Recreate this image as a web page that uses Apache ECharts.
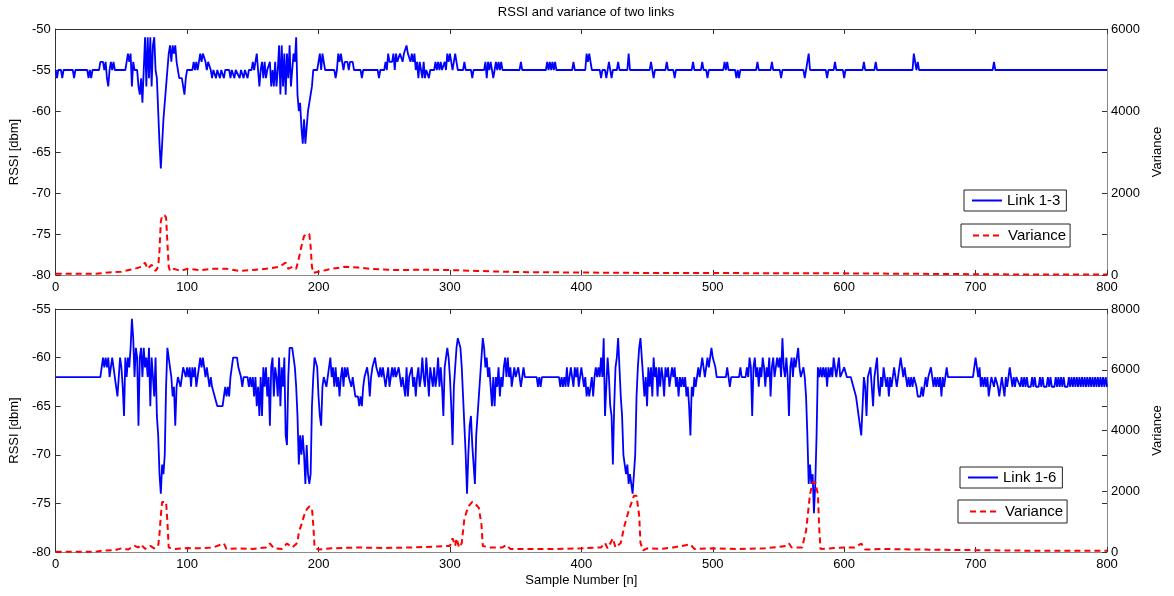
<!DOCTYPE html>
<html lang="en">
<head>
    <meta charset="UTF-8">
    <title>RSSI and variance of two links</title>
    <script src="https://cdn.jsdelivr.net/npm/echarts@6/dist/echarts.min.js"></script>
    <style>
        html, body { margin: 0; padding: 0; background: #fff; }
        #main { width: 1174px; height: 596px; }
    </style>
</head>
<body>
<div id="main"></div>

<script type="text/javascript">
    // [sample, rssi dBm]
    var link13 = [[0,-55],[1,-56],[2,-55],[4,-55],[5,-56],[6,-55],[13,-55],[14,-56],[15,-55],[24,-55],[25,-56],[26,-55],[27,-56],[28,-55],[33,-55],[34,-54],[36,-54],[37,-55],[38,-54],[39,-56],[40,-57],[41,-55],[42,-54],[43,-55],[44,-54],[45,-55],[53,-55],[54,-54],[55,-53],[56,-54],[57,-53],[58,-57],[59,-54],[60,-55],[62,-55],[63,-57],[64,-58],[65,-56],[66,-59],[67,-55],[68,-51],[69,-57],[70,-51],[71,-56],[72,-51],[73,-57],[74,-52],[75,-51],[76,-55],[77,-56],[78,-60],[79,-64],[80,-67],[81,-64],[82,-61],[83,-59],[84,-57],[85,-55],[86,-53],[87,-52],[88,-54],[89,-52],[90,-53],[91,-52],[92,-54],[93,-55],[94,-56],[96,-56],[97,-57],[98,-58],[99,-56],[100,-55],[104,-55],[105,-54],[106,-55],[107,-54],[108,-55],[110,-53],[111,-54],[112,-53],[114,-54],[115,-55],[116,-54],[118,-55],[119,-56],[120,-55],[122,-56],[123,-55],[125,-56],[126,-55],[128,-56],[129,-55],[132,-55],[133,-56],[134,-55],[136,-56],[137,-55],[140,-56],[141,-55],[143,-56],[144,-55],[146,-56],[147,-55],[149,-55],[150,-54],[151,-55],[152,-54],[153,-53],[154,-55],[155,-57],[156,-55],[157,-54],[158,-56],[159,-54],[160,-56],[161,-55],[163,-54],[164,-57],[165,-55],[166,-57],[167,-54],[168,-57],[169,-55],[170,-52],[171,-58],[172,-52],[173,-57],[174,-53],[175,-58],[176,-53],[177,-56],[178,-52],[179,-57],[180,-55],[181,-53],[182,-54],[183,-51],[184,-58],[185,-60],[186,-59],[187,-62],[188,-64],[189,-61],[190,-64],[191,-62],[192,-60],[193,-59],[194,-59],[195,-57],[196,-55],[199,-55],[200,-54],[201,-53],[202,-55],[203,-53],[204,-54],[205,-55],[212,-55],[213,-56],[214,-55],[215,-53],[216,-54],[217,-53],[218,-54],[219,-55],[220,-54],[222,-54],[223,-55],[224,-54],[226,-54],[227,-55],[232,-55],[233,-56],[234,-55],[245,-55],[246,-56],[247,-55],[250,-55],[251,-54],[252,-55],[253,-53],[254,-54],[256,-54],[257,-53],[258,-55],[259,-53],[260,-54],[262,-53],[264,-54],[265,-53],[267,-52],[268,-53],[270,-54],[271,-53],[272,-54],[273,-53],[274,-55],[275,-54],[276,-56],[277,-54],[278,-55],[279,-56],[280,-54],[281,-56],[282,-55],[284,-56],[285,-55],[288,-55],[289,-54],[290,-55],[291,-54],[292,-55],[293,-54],[294,-55],[296,-54],[297,-55],[298,-53],[299,-54],[300,-53],[301,-54],[302,-55],[303,-54],[304,-53],[305,-54],[306,-55],[310,-55],[311,-54],[312,-55],[316,-55],[317,-56],[318,-55],[326,-55],[327,-54],[328,-56],[329,-54],[330,-55],[331,-54],[332,-55],[333,-56],[334,-55],[335,-54],[336,-55],[337,-54],[338,-55],[339,-54],[340,-55],[353,-55],[354,-54],[355,-55],[373,-55],[374,-54],[375,-55],[376,-54],[377,-55],[378,-54],[379,-55],[380,-54],[381,-55],[393,-55],[394,-54],[395,-55],[403,-55],[404,-53],[405,-54],[406,-53],[407,-54],[408,-55],[414,-55],[415,-56],[416,-55],[418,-55],[419,-56],[420,-55],[421,-54],[422,-55],[423,-56],[424,-55],[427,-55],[428,-54],[429,-55],[435,-55],[436,-53],[437,-55],[452,-55],[453,-54],[454,-55],[455,-56],[456,-55],[464,-55],[465,-54],[466,-55],[470,-55],[471,-56],[472,-55],[484,-55],[485,-54],[486,-55],[491,-55],[492,-54],[493,-55],[495,-55],[496,-56],[497,-55],[508,-55],[509,-54],[510,-55],[511,-54],[512,-55],[517,-55],[518,-56],[519,-55],[520,-56],[521,-55],[533,-55],[534,-54],[535,-55],[544,-55],[545,-54],[546,-55],[551,-55],[552,-56],[553,-55],[569,-55],[570,-56],[571,-55],[572,-54],[573,-53],[574,-55],[586,-55],[587,-56],[588,-55],[592,-55],[593,-54],[594,-55],[599,-55],[600,-56],[601,-55],[614,-55],[615,-54],[616,-55],[623,-55],[624,-54],[625,-55],[652,-55],[653,-53],[654,-54],[655,-55],[656,-54],[657,-55],[713,-55],[714,-54],[715,-55],[800,-55]];

    // [sample, variance]
    var var13 = [[0,30],[30,30],[40,60],[50,80],[60,150],[65,200],[68,300],[70,150],[73,250],[76,100],[78,200],[79,600],[80,1300],[81,1450],[83,1450],[84,1400],[85,800],[86,200],[87,100],[90,150],[95,100],[100,150],[110,120],[120,150],[130,150],[140,100],[150,120],[160,150],[170,200],[175,300],[177,150],[180,200],[183,150],[185,400],[187,700],[189,950],[191,1000],[193,1000],[194,700],[195,200],[196,50],[200,80],[210,150],[220,200],[230,180],[240,150],[260,120],[280,130],[300,120],[320,100],[340,80],[360,70],[400,60],[450,50],[500,50],[550,40],[600,40],[650,30],[700,20],[750,10],[800,10]];

    var link16 = [[0,-62],[34,-62],[35,-61],[36,-60],[37,-61],[38,-60],[39,-61],[40,-60],[41,-62],[42,-61],[43,-60],[44,-61],[45,-62],[46,-63],[47,-64],[48,-62],[49,-60],[50,-61],[51,-63],[52,-66],[53,-60],[54,-62],[55,-60],[56,-61],[57,-59],[58,-56],[59,-58],[60,-62],[61,-59],[62,-60],[63,-67],[64,-60],[65,-59],[66,-62],[67,-59],[68,-61],[69,-60],[70,-62],[71,-59],[72,-65],[73,-60],[74,-62],[75,-64],[76,-60],[77,-66],[78,-68],[79,-72],[80,-74],[81,-71],[82,-72],[83,-70],[84,-63],[85,-59],[86,-60],[87,-61],[88,-62],[89,-64],[90,-63],[91,-67],[92,-63],[93,-62],[95,-63],[96,-62],[97,-61],[98,-61],[99,-62],[100,-61],[101,-62],[102,-61],[103,-63],[104,-61],[105,-62],[106,-61],[107,-63],[108,-62],[109,-61],[110,-60],[111,-61],[112,-60],[113,-61],[114,-62],[115,-61],[116,-62],[117,-63],[118,-62],[119,-63],[121,-64],[122,-64],[123,-65],[127,-65],[128,-64],[129,-63],[130,-64],[131,-63],[132,-64],[133,-62],[134,-61],[135,-60],[136,-60],[138,-60],[139,-61],[140,-61],[141,-62],[142,-63],[143,-62],[144,-62],[146,-62],[147,-63],[148,-62],[149,-63],[150,-62],[151,-64],[152,-62],[153,-65],[154,-63],[155,-66],[156,-62],[157,-66],[158,-61],[159,-63],[160,-61],[161,-64],[162,-62],[163,-67],[164,-61],[165,-60],[166,-64],[167,-61],[168,-62],[169,-64],[170,-60],[171,-65],[172,-61],[173,-63],[174,-60],[175,-68],[176,-69],[177,-62],[178,-59],[179,-59],[180,-59],[181,-60],[182,-61],[183,-63],[184,-66],[185,-71],[186,-68],[187,-70],[188,-68],[189,-70],[190,-73],[191,-69],[192,-72],[193,-73],[194,-72],[195,-65],[196,-62],[197,-60],[198,-60],[199,-61],[200,-64],[201,-66],[202,-67],[203,-63],[204,-62],[205,-62],[206,-63],[207,-62],[208,-61],[209,-60],[210,-62],[211,-61],[212,-63],[213,-61],[214,-63],[215,-62],[216,-64],[217,-62],[218,-61],[219,-63],[220,-61],[221,-62],[222,-61],[223,-62],[224,-62],[225,-63],[226,-62],[227,-63],[228,-64],[230,-64],[231,-65],[232,-64],[233,-65],[234,-63],[235,-62],[236,-62],[237,-61],[238,-62],[239,-64],[240,-62],[241,-61],[242,-61],[243,-60],[244,-61],[245,-61],[246,-62],[247,-61],[248,-62],[249,-61],[250,-62],[251,-63],[252,-62],[253,-61],[254,-63],[255,-62],[256,-61],[257,-62],[258,-61],[259,-62],[260,-62],[261,-61],[262,-62],[263,-63],[264,-62],[265,-62],[266,-64],[267,-61],[268,-64],[269,-62],[270,-62],[271,-61],[272,-63],[273,-62],[274,-64],[275,-62],[276,-61],[277,-63],[278,-62],[279,-60],[280,-62],[281,-63],[282,-60],[283,-62],[284,-64],[285,-61],[286,-62],[287,-63],[288,-61],[289,-63],[290,-62],[291,-60],[292,-63],[293,-61],[294,-63],[295,-66],[296,-61],[297,-60],[298,-59],[299,-60],[300,-62],[301,-65],[302,-69],[303,-63],[304,-61],[305,-59],[306,-58],[307,-58],[308,-59],[309,-61],[310,-64],[311,-67],[312,-70],[313,-74],[314,-70],[315,-67],[316,-66],[317,-69],[318,-71],[319,-73],[320,-68],[321,-66],[322,-64],[323,-62],[324,-60],[325,-58],[326,-59],[327,-61],[328,-60],[329,-62],[330,-61],[331,-63],[332,-65],[333,-62],[334,-65],[335,-62],[336,-63],[337,-61],[338,-64],[339,-62],[340,-63],[341,-61],[342,-60],[343,-62],[344,-60],[345,-62],[346,-61],[347,-63],[348,-62],[349,-61],[350,-62],[352,-61],[353,-62],[354,-63],[355,-62],[356,-61],[357,-62],[366,-62],[367,-63],[368,-62],[369,-63],[370,-62],[383,-62],[384,-63],[385,-62],[386,-63],[387,-62],[388,-63],[389,-61],[390,-63],[391,-62],[392,-61],[393,-62],[394,-63],[395,-61],[396,-62],[397,-61],[398,-63],[399,-62],[400,-61],[401,-62],[402,-63],[403,-62],[404,-64],[405,-63],[406,-64],[407,-63],[408,-62],[409,-64],[410,-62],[411,-61],[412,-62],[413,-61],[414,-62],[415,-60],[416,-62],[417,-58],[418,-66],[419,-63],[420,-60],[421,-62],[422,-65],[423,-66],[424,-71],[425,-65],[426,-61],[427,-60],[428,-58],[429,-61],[430,-64],[431,-66],[432,-70],[433,-71],[434,-72],[435,-71],[436,-73],[437,-72],[438,-73],[439,-74],[440,-74],[441,-70],[442,-64],[443,-61],[444,-59],[445,-58],[446,-60],[447,-62],[448,-64],[449,-62],[450,-65],[451,-61],[452,-63],[453,-61],[454,-64],[455,-60],[456,-62],[457,-61],[458,-64],[459,-61],[460,-63],[461,-61],[462,-62],[463,-64],[464,-61],[465,-62],[466,-61],[467,-63],[468,-62],[469,-61],[470,-62],[471,-61],[472,-63],[473,-62],[474,-64],[475,-62],[476,-63],[477,-62],[478,-63],[479,-62],[480,-64],[481,-63],[482,-65],[483,-68],[484,-63],[485,-64],[486,-62],[487,-63],[488,-62],[489,-61],[490,-62],[491,-61],[492,-60],[493,-61],[494,-62],[495,-61],[496,-60],[497,-61],[498,-60],[499,-59],[500,-60],[501,-60],[502,-61],[503,-62],[510,-62],[511,-61],[512,-62],[513,-63],[514,-62],[520,-62],[521,-61],[522,-62],[525,-62],[526,-61],[527,-62],[528,-60],[529,-61],[530,-66],[531,-61],[532,-60],[533,-62],[534,-61],[535,-63],[536,-61],[537,-62],[538,-60],[539,-61],[540,-63],[541,-61],[542,-62],[543,-60],[544,-64],[545,-61],[546,-60],[547,-62],[548,-61],[549,-60],[550,-61],[551,-60],[552,-62],[553,-58],[554,-61],[555,-62],[556,-60],[557,-62],[558,-66],[559,-61],[560,-60],[561,-62],[562,-60],[563,-61],[564,-60],[565,-59],[566,-61],[567,-62],[568,-62],[569,-61],[570,-62],[571,-64],[572,-68],[573,-73],[574,-71],[575,-73],[576,-72],[577,-76],[578,-73],[579,-68],[580,-61],[581,-62],[582,-61],[583,-62],[584,-61],[585,-62],[586,-61],[587,-63],[588,-61],[589,-62],[590,-61],[591,-62],[592,-60],[593,-61],[594,-62],[595,-61],[596,-60],[597,-62],[598,-62],[600,-61],[602,-62],[605,-62],[607,-63],[609,-64],[611,-66],[612,-67],[613,-68],[614,-65],[615,-62],[616,-63],[617,-66],[618,-62],[620,-61],[621,-63],[622,-65],[623,-62],[624,-61],[625,-60],[626,-63],[627,-64],[628,-62],[629,-63],[630,-61],[631,-62],[632,-63],[633,-62],[634,-64],[635,-62],[636,-63],[637,-62],[638,-61],[639,-62],[640,-63],[641,-62],[642,-61],[643,-60],[644,-61],[645,-62],[646,-61],[647,-62],[648,-63],[649,-62],[650,-63],[651,-62],[652,-63],[653,-62],[655,-63],[656,-64],[658,-64],[659,-63],[660,-64],[661,-63],[662,-62],[663,-63],[664,-62],[666,-61],[667,-62],[668,-63],[669,-62],[670,-63],[671,-62],[672,-63],[673,-62],[674,-64],[675,-62],[676,-63],[677,-62],[678,-61],[679,-62],[698,-62],[699,-61],[700,-60],[701,-61],[702,-62],[703,-61],[704,-63],[705,-62],[706,-63],[707,-62],[708,-63],[709,-62],[710,-64],[711,-63],[712,-62],[714,-63],[715,-62],[717,-63],[718,-64],[719,-63],[720,-62],[721,-63],[722,-64],[723,-62],[724,-63],[725,-62],[726,-61],[727,-62],[728,-63],[729,-62],[730,-63],[731,-62],[734,-63],[735,-62],[736,-63],[737,-62],[738,-63],[739,-62],[740,-63],[742,-63],[743,-62],[744,-63],[745,-62],[746,-63],[748,-63],[749,-62],[750,-63],[751,-62],[752,-63],[754,-63],[755,-62],[756,-63],[757,-62],[758,-63],[760,-63],[761,-62],[762,-63],[763,-62],[764,-63],[765,-62],[766,-63],[767,-62],[768,-63],[770,-63],[771,-62],[772,-63],[773,-62],[774,-63],[775,-62],[776,-63],[777,-62],[778,-63],[779,-62],[780,-63],[781,-62],[782,-63],[783,-62],[784,-63],[785,-62],[786,-63],[787,-62],[788,-63],[789,-62],[790,-63],[791,-62],[792,-63],[793,-62],[794,-63],[795,-62],[796,-63],[797,-62],[798,-63],[799,-62],[800,-63]];

    var var16 = [[0,10],[30,10],[35,40],[45,60],[50,120],[55,80],[60,200],[63,150],[65,250],[68,100],[72,200],[75,120],[78,200],[79,600],[80,1200],[81,1650],[84,1650],[85,1000],[86,150],[90,100],[100,130],[110,120],[120,150],[126,250],[128,280],[130,100],[140,120],[150,100],[160,150],[163,280],[166,120],[172,100],[176,280],[180,150],[184,300],[185,650],[187,900],[189,1200],[191,1400],[193,1500],[195,1450],[196,900],[197,150],[200,80],[210,120],[230,150],[250,130],[270,150],[290,180],[300,200],[302,450],[304,200],[305,450],[307,150],[309,300],[311,1100],[314,1500],[317,1650],[319,1600],[322,1450],[324,900],[325,200],[330,150],[340,150],[343,230],[346,100],[360,100],[380,100],[400,120],[415,150],[418,300],[420,120],[424,450],[426,150],[430,300],[433,900],[436,1350],[438,1600],[440,1850],[442,1850],[444,1200],[445,300],[447,50],[450,120],[460,100],[470,150],[483,250],[486,100],[500,120],[520,100],[540,120],[556,200],[558,280],[560,150],[568,150],[571,700],[572,1100],[574,1900],[576,2300],[578,2300],[580,1900],[581,800],[582,100],[590,120],[600,150],[608,150],[613,280],[616,80],[630,100],[660,80],[700,60],[750,40],[800,40]];

    var font = 'Liberation Sans, Arial, sans-serif';
    var lbl = { color: '#000', fontSize: 13, fontFamily: font };
    var darkLine = { onZero: false, lineStyle: { color: '#333', width: 1 } };
    var greyLine = { onZero: false, lineStyle: { color: '#8a8a8a', width: 1 } };
    var tickIn = { inside: true, length: 5, lineStyle: { color: '#333' } };
    var nameStyle = { color: '#000', fontSize: 13, fontFamily: font };

    function xBottom(grid, name) {
        return {
            type: 'value', gridIndex: grid, min: 0, max: 800, interval: 100,
            position: 'bottom', axisLine: greyLine, axisTick: tickIn,
            axisLabel: Object.assign({ margin: 6 }, lbl), splitLine: { show: false },
            name: name, nameLocation: 'middle', nameGap: 22, nameTextStyle: nameStyle
        };
    }
    function xTop(grid) {
        return {
            type: 'value', gridIndex: grid, min: 0, max: 800, interval: 100,
            position: 'top', axisLine: darkLine, axisTick: tickIn,
            axisLabel: { show: false }, splitLine: { show: false }
        };
    }
    function yLeft(grid, min, max) {
        return {
            type: 'value', gridIndex: grid, min: min, max: max, interval: 5,
            position: 'left', axisLine: darkLine, axisTick: tickIn,
            axisLabel: Object.assign({ margin: 5 }, lbl), splitLine: { show: false },
            name: 'RSSI [dbm]', nameLocation: 'middle', nameGap: 34, nameTextStyle: nameStyle
        };
    }
    function yRightVar(grid, max) {
        return {
            type: 'value', gridIndex: grid, min: 0, max: max, interval: 2000,
            position: 'right', axisLine: greyLine, axisTick: tickIn,
            axisLabel: Object.assign({ margin: 4, formatter: function (v) { return String(v); } }, lbl),
            splitLine: { show: false },
            name: 'Variance', nameLocation: 'middle', nameGap: 44, nameTextStyle: nameStyle
        };
    }
    function yRightMirror(grid, min, max) {
        return {
            type: 'value', gridIndex: grid, min: min, max: max, interval: 5,
            position: 'right', axisLine: { show: false, onZero: false }, axisTick: tickIn,
            axisLabel: { show: false }, splitLine: { show: false }
        };
    }
    function legendBox(top, left, name, pad) {
        return {
            data: [name], top: top, left: left, orient: 'vertical',
            itemWidth: 30, itemHeight: 14, padding: pad,
            backgroundColor: '#fff', borderColor: '#222', borderWidth: 1, borderRadius: 0,
            selectedMode: false,
            itemStyle: { opacity: 0 },
            textStyle: { color: '#000', fontSize: 15, fontFamily: font }
        };
    }

    var myChart = echarts.init(document.getElementById('main'), null, { renderer: 'canvas' });

    var option = {
        animation: false,
        backgroundColor: '#fff',
        title: {
            text: 'RSSI and variance of two links',
            left: 581, top: 1, textAlign: 'center',
            textStyle: { color: '#000', fontSize: 13, fontWeight: 'normal', fontFamily: font }
        },
        grid: [
            { left: 55, right: 67, top: 29, height: 246 },
            { left: 55, right: 67, top: 309, height: 243 }
        ],
        xAxis: [xBottom(0, ''), xTop(0), xBottom(1, 'Sample Number [n]'), xTop(1)],
        yAxis: [
            yLeft(0, -80, -50), yRightVar(0, 6000), yRightMirror(0, -80, -50),
            yLeft(1, -80, -55), yRightVar(1, 8000), yRightMirror(1, -80, -55)
        ],
        legend: [
            legendBox(190, 964, 'Link 1-3', [3, 6, 3, 7]),
            legendBox(224, 961, 'Variance', [4, 4, 4, 11]),
            legendBox(467, 960, 'Link 1-6', [3, 6, 3, 7]),
            legendBox(500, 958, 'Variance', [4, 4, 4, 11])
        ],
        series: [
            {
                name: 'Link 1-3', type: 'line', xAxisIndex: 0, yAxisIndex: 0,
                data: link13, symbol: 'none',
                lineStyle: { color: '#0000ff', width: 1.8 }, itemStyle: { color: '#0000ff' }
            },
            {
                name: 'Variance', type: 'line', xAxisIndex: 0, yAxisIndex: 1,
                data: var13, symbol: 'none',
                lineStyle: { color: '#ff0000', width: 2, type: [6, 4] }, itemStyle: { color: '#ff0000' }
            },
            {
                name: 'Link 1-6', type: 'line', xAxisIndex: 2, yAxisIndex: 3,
                data: link16, symbol: 'none',
                lineStyle: { color: '#0000ff', width: 1.8 }, itemStyle: { color: '#0000ff' }
            },
            {
                name: 'Variance', type: 'line', xAxisIndex: 2, yAxisIndex: 4,
                data: var16, symbol: 'none',
                lineStyle: { color: '#ff0000', width: 2, type: [6, 4] }, itemStyle: { color: '#ff0000' }
            }
        ]
    };

    myChart.setOption(option);
</script>
</body>
</html>
